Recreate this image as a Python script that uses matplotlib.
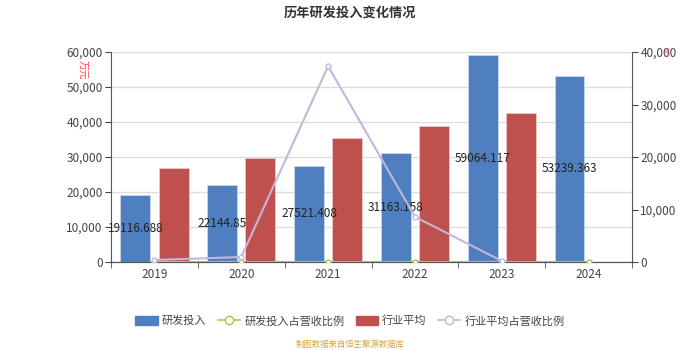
import numpy as np
import matplotlib.pyplot as plt
from matplotlib.ticker import FuncFormatter
from matplotlib.lines import Line2D
from matplotlib.patches import Patch

plt.rcParams['font.family'] = ['Noto Sans CJK SC', 'DejaVu Sans']

# --- Data ---
years = ['2019', '2020', '2021', '2022', '2023', '2024']
rd_invest = [19116.688, 22144.85, 27521.408, 31163.158, 59064.117, 53239.363]
rd_ratio = [0, 0, 0, 0, 0, 0]
ind_avg = [26900, 29700, 35400, 38850, 42550]
ind_ratio = [380, 950, 37300, 8600, 200]

BLUE = '#4f7fbe'
RED = '#c0504d'
GREEN = '#9bcf4a'
PURPLE = '#c4b5dc'

fig = plt.figure(figsize=(7, 3.5), dpi=100)
ax1 = fig.add_axes([0.1586, 0.2514, 0.7443, 0.6000])
ax2 = ax1.twinx()

x = np.arange(len(years))
w = 0.345
off = 0.22
ax1.bar(x - off, rd_invest, width=w, color=BLUE, edgecolor='#c9d6ea', linewidth=0.6, zorder=3)
ax1.bar(x[:len(ind_avg)] + off, ind_avg, width=w, color=RED, edgecolor='#ecc9c8', linewidth=0.6, zorder=3)
for xi, v in zip(x, rd_invest):
    ax1.text(xi - off, v / 2, str(v), ha='center', va='center',
             fontsize=8.5, color='#222222', zorder=6)

ax2.plot(x, rd_ratio, color=GREEN, lw=1.5, marker='o', ms=3.5, mfc='white', mec=GREEN, mew=1, zorder=4)
ax2.plot(x[:len(ind_ratio)], ind_ratio, color=PURPLE, lw=1.5, marker='o', ms=3.5, mfc='white', mec=PURPLE,
         mew=1, zorder=4)

ax1.set_xlim(-0.5, len(years) - 0.5)
ax1.set_ylim(0, 60000)
ax2.set_ylim(0, 40000)
ax1.set_yticks(range(0, 60001, 10000))
ax2.set_yticks(range(0, 40001, 10000))
fmt = FuncFormatter(lambda v, p: f'{int(v):,}')
ax1.yaxis.set_major_formatter(fmt)
ax2.yaxis.set_major_formatter(fmt)
ax1.set_xticks(x)
ax1.set_xticklabels(years)
ax1.set_xticks(np.arange(-0.5, len(years)), minor=True)
ax1.tick_params(axis='x', which='major', length=0, labelsize=8.5, colors='#444444', pad=4)
ax1.tick_params(axis='x', which='minor', length=4, color='#555555')
ax1.tick_params(axis='y', length=4, labelsize=8.5, colors='#444444', pad=2)
ax2.tick_params(axis='y', length=4, labelsize=8.5, colors='#444444', pad=2)

ax1.grid(axis='y', color='#dddddd', lw=1, zorder=0)
ax1.set_axisbelow(True)
for a in (ax1, ax2):
    a.spines['top'].set_visible(False)
    a.spines['left'].set_color('#555555')
    a.spines['right'].set_color('#555555')
    a.spines['bottom'].set_color('#555555')
ax2.spines['left'].set_visible(False)
ax1.spines['right'].set_visible(False)

fig.text(0.5, 0.965, '历年研发投入变化情况', ha='center', va='center', fontsize=9.5, fontweight='bold', color='#333333')
fig.text(0.118, 0.80, '万元', ha='center', va='center', rotation=-90, fontsize=7, color='#ff4444')
fig.text(0.951, 0.85, '%', ha='center', va='center', rotation=-45, fontsize=6, color='#ff6666')

handles = [
    Patch(facecolor=BLUE, edgecolor=BLUE),
    Line2D([0], [0], color=GREEN, lw=1.2, marker='o', ms=6, mfc='white', mec=GREEN),
    Patch(facecolor=RED, edgecolor=RED),
    Line2D([0], [0], color=PURPLE, lw=1.2, marker='o', ms=6, mfc='white', mec=PURPLE),
]
labels = ['研发投入', '研发投入占营收比例', '行业平均', '行业平均占营收比例']
fig.legend(handles, labels, loc='center', bbox_to_anchor=(0.5, 0.083), ncol=4, frameon=False,
           fontsize=8, handlelength=2.0, handleheight=0.9, columnspacing=1.0, handletextpad=0.4,
           labelcolor='#444444')
fig.text(0.5, 0.015, '制图数据来自恒生聚源数据库', ha='center', va='center', fontsize=6, color='#d9a440')

fig.savefig('out.png', dpi=100)
